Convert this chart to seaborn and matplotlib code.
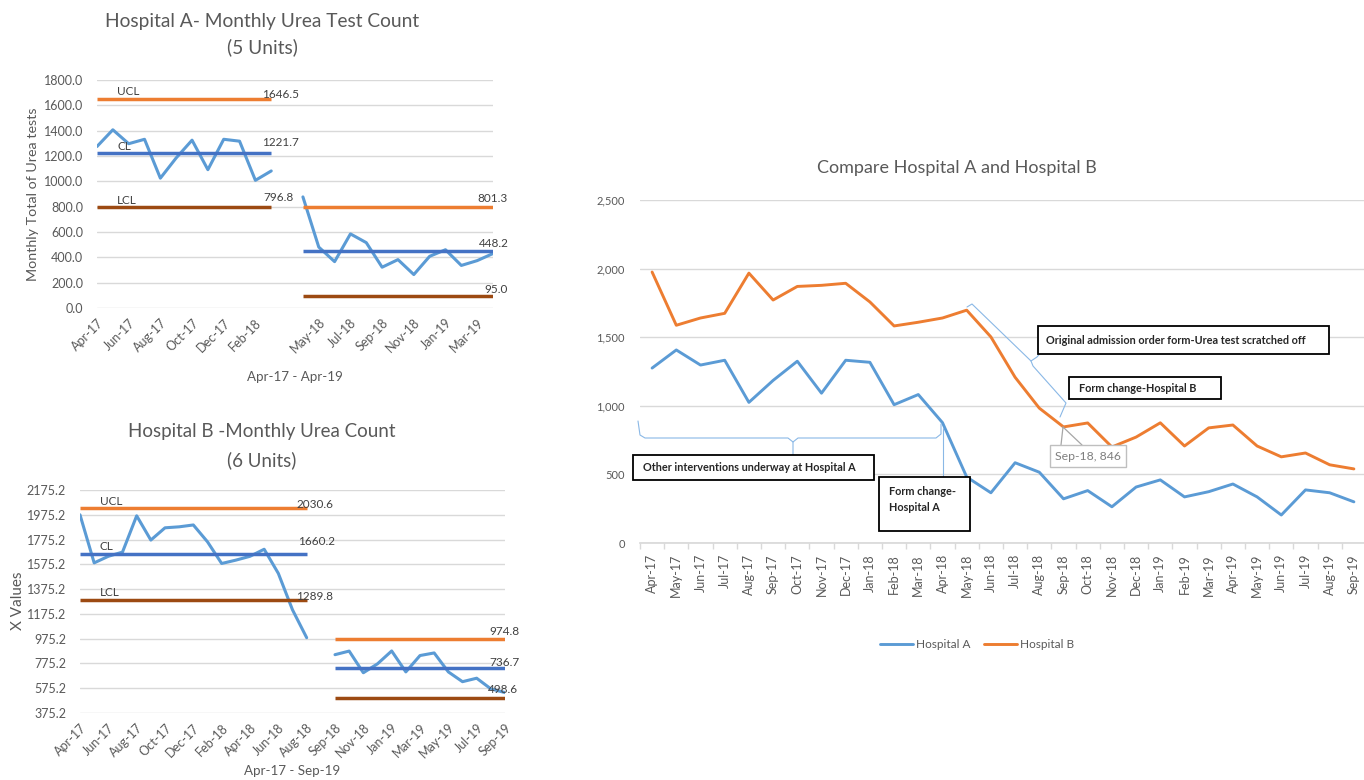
import numpy as np
import pandas as pd
import matplotlib
matplotlib.use("Agg")
import matplotlib.pyplot as plt
import seaborn as sns
from matplotlib.patches import Rectangle
from matplotlib.lines import Line2D

# ---------------- data ----------------
months = ["Apr-17", "May-17", "Jun-17", "Jul-17", "Aug-17", "Sep-17", "Oct-17", "Nov-17",
          "Dec-17", "Jan-18", "Feb-18", "Mar-18", "Apr-18", "May-18", "Jun-18", "Jul-18",
          "Aug-18", "Sep-18", "Oct-18", "Nov-18", "Dec-18", "Jan-19", "Feb-19", "Mar-19",
          "Apr-19", "May-19", "Jun-19", "Jul-19", "Aug-19", "Sep-19"]
hosp_a = [1275, 1407, 1297, 1332, 1025, 1185, 1325, 1092, 1332, 1317, 1008, 1082,
          877, 481, 366, 585, 516, 322, 382, 264, 408, 460, 336, 374,
          430, 336, 204, 387, 366, 300]
hosp_b = [1975, 1587, 1640, 1674, 1967, 1771, 1870, 1878, 1893, 1757, 1582, 1609,
          1640, 1697, 1502, 1208, 983, 846, 875, 700, 772, 876, 707, 839,
          860, 707, 628, 656, 570, 540]

# control limits (segment 1, segment 2)
a_ucl = [1646.5, 801.3]
a_cl = [1221.7, 448.2]
a_lcl = [796.8, 95.0]
b_ucl = [2030.6, 974.8]
b_cl = [1660.2, 736.7]
b_lcl = [1289.8, 498.6]

a_yticks = [0, 200, 400, 600, 800, 1000, 1200, 1400, 1600, 1800]
b_yticks = [375.2, 575.2, 775.2, 975.2, 1175.2, 1375.2, 1575.2, 1775.2, 1975.2, 2175.2]
c_yticks = [0, 500, 1000, 1500, 2000, 2500]

# segment split (number of months before the break)
a_split, a_end = 12, 25
b_split = 17

# ---------------- style ----------------
sns.set_theme(style="white")
plt.rcParams["font.family"] = ["Lato", "DejaVu Sans"]
GRAY = "#595959"
DARK = "#404040"
GRID = "#D9D9D9"
C_DATA = "#5B9BD5"
C_CL = "#4472C4"
C_UCL = "#ED7D31"
C_LCL = "#9C4A12"
C_A = "#5B9BD5"
C_B = "#ED7D31"

W, H = 1364, 780
fig = plt.figure(figsize=(W / 100, H / 100), dpi=100)


def P(x, y):
    return (x / W, 1 - y / H)


def add_axes_px(l, t, r, b):
    return fig.add_axes([l / W, 1 - b / H, (r - l) / W, (b - t) / H])


def spc_chart(ax, cats, vals, seg_ranges, ucl, cl, lcl, yticks, ylim, xtick_pos,
              lab_off, val_offs):
    df = pd.DataFrame({"pos": np.arange(len(cats)), "cat": cats, "value": vals})
    seg = np.full(len(cats), -1)
    for i, (s, e) in enumerate(seg_ranges):
        seg[s:e + 1] = i
    df["seg"] = seg
    df = df[df["seg"] >= 0].dropna()
    sns.lineplot(data=df, x="pos", y="value", units="seg", estimator=None,
                 color=C_DATA, lw=2.2, ax=ax, legend=False, zorder=3)
    for i, (s, e) in enumerate(seg_ranges):
        for v, c in ((ucl[i], C_UCL), (cl[i], C_CL), (lcl[i], C_LCL)):
            ax.hlines(v, s, e, color=c, lw=2.5, zorder=4)
    # UCL / CL / LCL labels
    s0 = seg_ranges[0][0]
    for txt, v, dy in zip(["UCL", "CL", "LCL"], [ucl[0], cl[0], lcl[0]], lab_off):
        ax.annotate(txt, (s0, v), xytext=(20, dy), textcoords="offset pixels",
                    ha="left", va="center", fontsize=8.5, color=DARK, zorder=5)
    for i, (s, e) in enumerate(seg_ranges):
        for v, (dx, dy) in zip([ucl[i], cl[i], lcl[i]], val_offs[i]):
            ax.annotate(f"{v:.1f}", (e, v), xytext=(dx, dy), textcoords="offset pixels",
                        ha="center", va="center", fontsize=8.5, color=DARK, zorder=5)
    ax.set_xlim(0, len(cats) - 1)
    ax.set_ylim(*ylim)
    ax.set_yticks(yticks)
    ax.set_yticklabels([f"{t:.1f}" for t in yticks])
    ax.set_xticks(xtick_pos)
    ax.set_xticklabels([cats[p] for p in xtick_pos], rotation=45, ha="right",
                       rotation_mode="anchor")
    ax.grid(axis="y", color=GRID, lw=1)
    ax.set_axisbelow(True)
    for sp in ax.spines.values():
        sp.set_visible(False)
    ax.tick_params(axis="both", length=0, labelsize=9, labelcolor=GRAY)
    ax.tick_params(axis="y", pad=10)
    ax.tick_params(axis="x", pad=6)
    ax.set_xlabel("")
    ax.set_ylabel("")


# ---------------- chart A ----------------
cats_a = months[:a_split] + [""] + months[a_split:a_end]
vals_a = hosp_a[:a_split] + [np.nan] + hosp_a[a_split:a_end]
axA = add_axes_px(97, 80, 493, 308)
spc_chart(axA, cats_a, vals_a, [(0, a_split - 1), (a_split + 1, a_end)],
          a_ucl, a_cl, a_lcl, a_yticks, (0, 1800), list(range(0, 25, 2)),
          [8, 7, 7],
          [[(9, 5), (9, 11), (7, 10)], [(0, 8), (1, 8), (3, 6)]])

fig.text(*P(262, 21), "Hospital A- Monthly Urea Test Count", ha="center", va="center",
         fontsize=13.8, color=GRAY)
fig.text(*P(262, 47), "(5 Units)", ha="center", va="center", fontsize=13.8, color=GRAY)
fig.text(*P(33, 194), "Monthly Total of Urea tests", rotation=90, ha="center",
         va="center", fontsize=10.3, color=GRAY)
fig.text(*P(295, 377), "Apr-17 - Apr-19", ha="center", va="center", fontsize=9.6,
         color=GRAY)

# ---------------- chart B ----------------
cats_b = months[:b_split] + [""] + months[b_split:]
vals_b = hosp_b[:b_split] + [np.nan] + hosp_b[b_split:]
axB = add_axes_px(80, 490, 505, 713)
spc_chart(axB, cats_b, vals_b, [(0, b_split - 1), (b_split + 1, len(cats_b) - 1)],
          b_ucl, b_cl, b_lcl, b_yticks, (375.2, 2175.2),
          list(range(0, 17, 2)) + list(range(18, 31, 2)),
          [6, 7, 7],
          [[(8, 3), (10, 12), (8, 3)], [(-1, 7), (-1, 6), (-2, 8)]])

fig.text(*P(262, 432), "Hospital B -Monthly Urea Count", ha="center", va="center",
         fontsize=13.5, color=GRAY)
fig.text(*P(262, 460), "(6 Units)", ha="center", va="center", fontsize=13.5, color=GRAY)
fig.text(*P(18, 601), "X Values", rotation=90, ha="center", va="center", fontsize=11,
         color=GRAY)
fig.text(*P(292, 771), "Apr-17 - Sep-19", ha="center", va="center", fontsize=9.6,
         color=GRAY)

# ---------------- chart C ----------------
axC = add_axes_px(640, 200, 1366, 543)
df_c = pd.DataFrame({
    "pos": list(range(len(months))) * 2,
    "value": hosp_a + hosp_b,
    "hospital": ["Hospital A"] * len(months) + ["Hospital B"] * len(months),
})
sns.lineplot(data=df_c, x="pos", y="value", hue="hospital",
             palette={"Hospital A": C_A, "Hospital B": C_B}, lw=2.1, ax=axC)
handles, labels = axC.get_legend_handles_labels()
axC.get_legend().remove()
axC.set_xlim(-0.5, len(months) - 0.5)
axC.set_ylim(0, 2500)
axC.set_yticks(c_yticks)
axC.set_yticklabels([f"{t:,}" for t in c_yticks])
axC.set_xticks(range(len(months)))
axC.set_xticklabels(months, rotation=90)
axC.set_xticks(np.arange(-0.5, len(months), 1), minor=True)
axC.grid(axis="y", color=GRID, lw=1)
axC.set_axisbelow(True)
for k, sp in axC.spines.items():
    sp.set_visible(k == "bottom")
axC.spines["bottom"].set_color(GRID)
axC.tick_params(axis="x", which="major", length=0, labelsize=9, labelcolor=GRAY, pad=8)
axC.tick_params(axis="x", which="minor", length=4, color=GRID, width=1, bottom=True)
axC.tick_params(axis="y", length=0, labelsize=8, labelcolor=GRAY, pad=11)
axC.set_xlabel("")
axC.set_ylabel("")

fig.text(*P(957, 168), "Compare Hospital A and Hospital B", ha="center", va="center",
         fontsize=13, color=GRAY)
fig.legend(handles, labels, loc="center", bbox_to_anchor=P(977, 645), ncol=2,
           frameon=False, fontsize=8.5, handlelength=2.8, handletextpad=0.2,
           columnspacing=1.2, labelcolor=GRAY)

# ---------------- annotations (figure pixel layout) ----------------
BRACE = "#8AB8E6"


def poly(pts, color, lw=0.8):
    xs = [p[0] / W for p in pts]
    ys = [1 - p[1] / H for p in pts]
    fig.add_artist(Line2D(xs, ys, color=color, lw=lw, transform=fig.transFigure,
                          zorder=5))


def box(l, t, r, b, ec="black", lw=1.3):
    fig.add_artist(Rectangle(P(l, b), (r - l) / W, (b - t) / H, transform=fig.transFigure,
                             facecolor="white", edgecolor=ec, lw=lw, zorder=6))


# Hospital A brace and leader
poly([(638, 421), (640, 435), (645, 438), (788, 438), (793, 442), (793, 455)], BRACE)
poly([(793, 442), (798, 438), (936, 438), (941, 434), (941, 424)], BRACE)
poly([(943, 428), (943, 477)], BRACE)

# Hospital B brace
poly([(967, 307), (972, 304), (1031, 361), (1037, 357), (1043, 350)], BRACE)
poly([(1031, 361), (1033, 366), (1066, 403), (1060, 417)], BRACE)

# Sep-18 callout leaders
poly([(1063, 427), (1061, 445)], "#A6A6A6", 0.9)
poly([(1063, 427), (1082, 445)], "#A6A6A6", 0.9)

BOXTXT = dict(ha="left", va="center", fontsize=7.8, fontweight="bold", color="#262626",
              zorder=7)
box(633, 455, 874, 480)
fig.text(*P(643, 467.5), "Other interventions underway at Hospital A", **BOXTXT)
box(879, 477, 970, 531)
fig.text(*P(889, 499.5), "Form change-\nHospital A", linespacing=1.6, **BOXTXT)
box(1038, 326, 1329, 354)
fig.text(*P(1046, 340), "Original admission order form-Urea test scratched off", **BOXTXT)
box(1069, 377, 1221, 399)
fig.text(*P(1079, 388), "Form change-Hospital B", **BOXTXT)
box(1050, 445, 1126, 467, ec="#BFBFBF", lw=1.0)
fig.text(*P(1088, 456), "Sep-18, 846", ha="center", va="center", fontsize=8.8,
         color="#7F7F7F", zorder=7)

fig.savefig("out.png", dpi=100)
